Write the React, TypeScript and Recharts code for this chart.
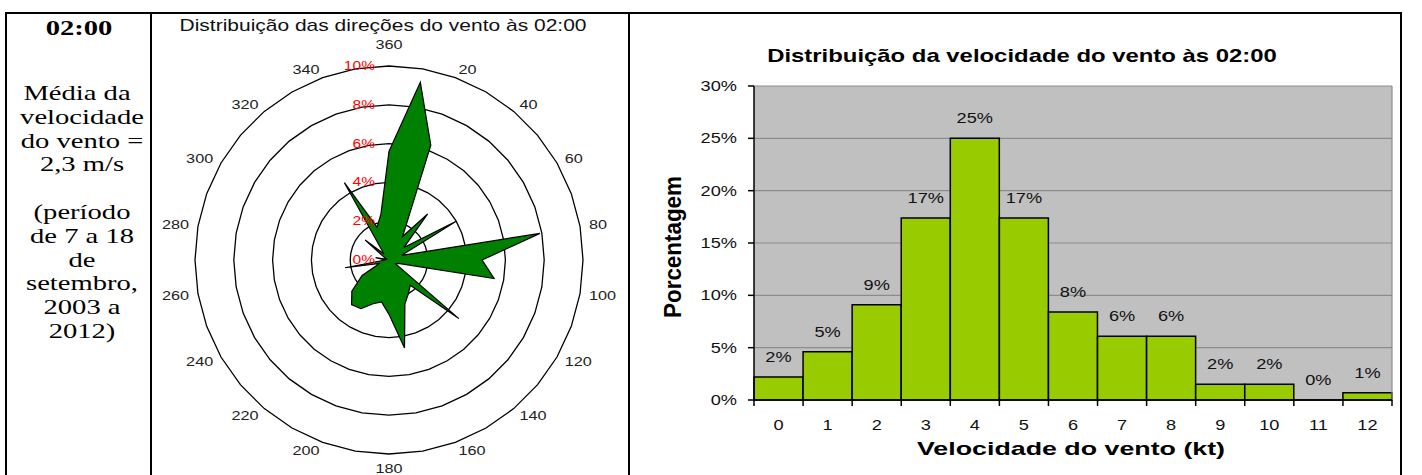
import {
  BarChart, Bar, XAxis, YAxis, CartesianGrid, LabelList, ReferenceLine,
  RadarChart, Radar, PolarGrid, PolarAngleAxis, PolarRadiusAxis,
} from 'recharts';

// wind direction rose (percent of observations per 10 degree sector)
const DIRECTIONS = [360, 10, 20, 30, 40, 50, 60, 70, 80, 90, 100, 110, 120, 130, 140, 150, 160, 170,
  180, 190, 200, 210, 220, 230, 240, 250, 260, 270, 280, 290, 300, 310, 320, 330, 340, 350];
const DIR_PCT = [5.6, 9.3, 6.3, 1.4, 3.1, 1.0, 4.0, 0.7, 7.9, 4.8, 5.5, 0.5, 0.4, 4.7, 1.7, 2.0, 2.4, 4.6,
  2.8, 2.2, 2.4, 2.9, 3.0, 2.5, 1.6, 0.5, 2.3, 0.2, 0.7, 0.1, 0.3, 1.6, 0.4, 4.6, 1.8, 2.4];

// wind speed histogram
const SPEEDS = [0, 1, 2, 3, 4, 5, 6, 7, 8, 9, 10, 11, 12];
const SPEED_PCT = [2.2, 4.6, 9.1, 17.4, 25.0, 17.4, 8.4, 6.1, 6.1, 1.5, 1.5, 0, 0.7];
const PCT_TICKS = [0, 5, 10, 15, 20, 25, 30];

const INFO_LINES = ['Média da', 'velocidade', 'do vento =', '2,3 m/s', '', '(período', 'de 7 a 18', 'de', 'setembro,', '2003 a', '2012)'];

const roseData = DIRECTIONS.map((dir, i) => ({ dir, pct: DIR_PCT[i] }));
const speedData = SPEEDS.map((speed, i) => ({ speed, pct: SPEED_PCT[i] }));

const SX = 1.3; // the source picture is stretched sideways
const SANS = '"Liberation Sans", Arial, sans-serif';
const SERIF = '"Liberation Serif", "Times New Roman", serif';

const CX = 237;
const CY = 246;
const R = 194;
const BAND = 638 / 13;

function SText({ x, y, size, anchor = 'middle', weight = 'normal', fill = '#000', family = SANS, rotate = 0, fit, children }: any) {
  const t = `translate(${x} ${y}) scale(${SX} 1)` + (rotate ? ` rotate(${rotate})` : '');
  return (
    <text transform={t} x={0} y={0} fontSize={size} textAnchor={anchor} fontWeight={weight} fill={fill}
      fontFamily={family} textLength={fit} lengthAdjust={fit ? 'spacingAndGlyphs' : undefined}>
      {children}
    </text>
  );
}

const AngleTick = (props: any) => {
  const v = props.payload.value;
  if (v % 20 !== 0) return <g />;
  const a = (props.payload.coordinate * Math.PI) / 180;
  const c = Math.cos(a);
  const s = Math.sin(a);
  let x = CX + (R + 9) * c;
  let y = CY - (R + 9) * s;
  let anchor = 'middle';
  if (c > 0.1) anchor = 'start';
  else if (c < -0.1) anchor = 'end';
  else y += s > 0 ? -13 : 5;
  return <SText x={x} y={y + 4.5} size={12.5} anchor={anchor} fill="#222">{v}</SText>;
};

const RadiusTick = (props: any) => (
  <SText x={props.x - 14} y={props.y + 4} size={12} anchor="end" fill="#FF0000">{props.payload.value}%</SText>
);

const YTick = (props: any) => (
  <SText x={props.x} y={props.y + 5} size={14} anchor="end" fill="#111">{props.payload.value}%</SText>
);

const XTick = (props: any) => {
  const { x, y, payload, index } = props;
  const h = BAND / 2;
  return (
    <g>
      <line x1={x - h} x2={x - h} y1={y} y2={y + 6} stroke="#000" strokeWidth={1.5} />
      {index === SPEEDS.length - 1 && <line x1={x + h} x2={x + h} y1={y} y2={y + 6} stroke="#000" strokeWidth={1.5} />}
      <SText x={x} y={y + 30} size={14} fill="#111">{payload.value}</SText>
    </g>
  );
};

const BarLabel = (props: any) => (
  <SText x={props.x + props.width / 2} y={props.y - 15} size={14} fill="#111">{Math.round(props.value)}%</SText>
);

export default function App() {
  return (
    <div style={{ position: 'absolute', left: 0, top: 0, width: 1422, height: 475, background: '#fff', overflow: 'hidden' }}>
      <div style={{ position: 'absolute', left: 152, top: 14 }}>
        <RadarChart width={476} height={461} data={roseData} cx={CX} cy={CY} outerRadius={R} margin={{ top: 0, right: 0, bottom: 0, left: 0 }}>
          <PolarGrid gridType="polygon" radialLines={false} stroke="#000" strokeWidth={1.3} />
          <PolarAngleAxis dataKey="dir" tick={AngleTick} tickLine={false} axisLine={false} />
          <PolarRadiusAxis angle={90} type="number" domain={[0, 10]} tickCount={6} axisLine={false} tick={RadiusTick} />
          <Radar dataKey="pct" fill="#008000" fillOpacity={1} stroke="#000" strokeWidth={1.2} isAnimationActive={false} />
        </RadarChart>
      </div>

      <div style={{ position: 'absolute', left: 630, top: 14 }}>
        <BarChart width={770} height={461} data={speedData} barCategoryGap={0} margin={{ top: 72, right: 8, bottom: 0, left: 0 }}>
          <CartesianGrid vertical={false} stroke="#8C8C8C" strokeWidth={1.2} fill="#C0C0C0" fillOpacity={1} />
          <XAxis dataKey="speed" height={75} tick={XTick} tickLine={false} tickSize={0} tickMargin={0}
            axisLine={{ stroke: '#000', strokeWidth: 1.5 }} interval={0} />
          <YAxis width={124} domain={[0, 30]} ticks={PCT_TICKS} tick={YTick} tickSize={6} tickMargin={11}
            tickLine={{ stroke: '#000', strokeWidth: 1.5 }} axisLine={{ stroke: '#000', strokeWidth: 1.5 }} />
          <ReferenceLine x={12} position="end" stroke="#8C8C8C" strokeWidth={1.2} />
          <Bar dataKey="pct" fill="#99CC00" stroke="#000" strokeWidth={1.5} minPointSize={0.01} isAnimationActive={false}>
            <LabelList dataKey="pct" content={BarLabel} />
          </Bar>
        </BarChart>
      </div>

      <svg width={1422} height={475} style={{ position: 'absolute', left: 0, top: 0, pointerEvents: 'none' }}>
        <g stroke="#000" strokeWidth={2}>
          <line x1={5} x2={1402} y1={13} y2={13} />
          <line x1={6} x2={6} y1={12} y2={475} />
          <line x1={151} x2={151} y1={12} y2={475} />
          <line x1={629} x2={629} y1={12} y2={475} />
          <line x1={1401} x2={1401} y1={12} y2={475} />
        </g>
        <SText x={79} y={35} size={22} weight="bold" family={SERIF}>02:00</SText>
        {INFO_LINES.map((t, i) => (
          <SText key={i} x={i === 0 ? 77 : 82} y={100 + i * 23.8} size={22} family={SERIF}>{t}</SText>
        ))}
        <SText x={383} y={31} size={16} fill="#111" fit={313}>Distribuição das direções do vento às 02:00</SText>
        <SText x={1022} y={62} size={18} weight="bold" fit={392}>Distribuição da velocidade do vento às 02:00</SText>
        <SText x={1071} y={455} size={18} weight="bold" fit={237}>Velocidade do vento (kt)</SText>
        <SText x={681} y={247} size={19} weight="bold" rotate={-90} fit={142}>Porcentagem</SText>
      </svg>
    </div>
  );
}
